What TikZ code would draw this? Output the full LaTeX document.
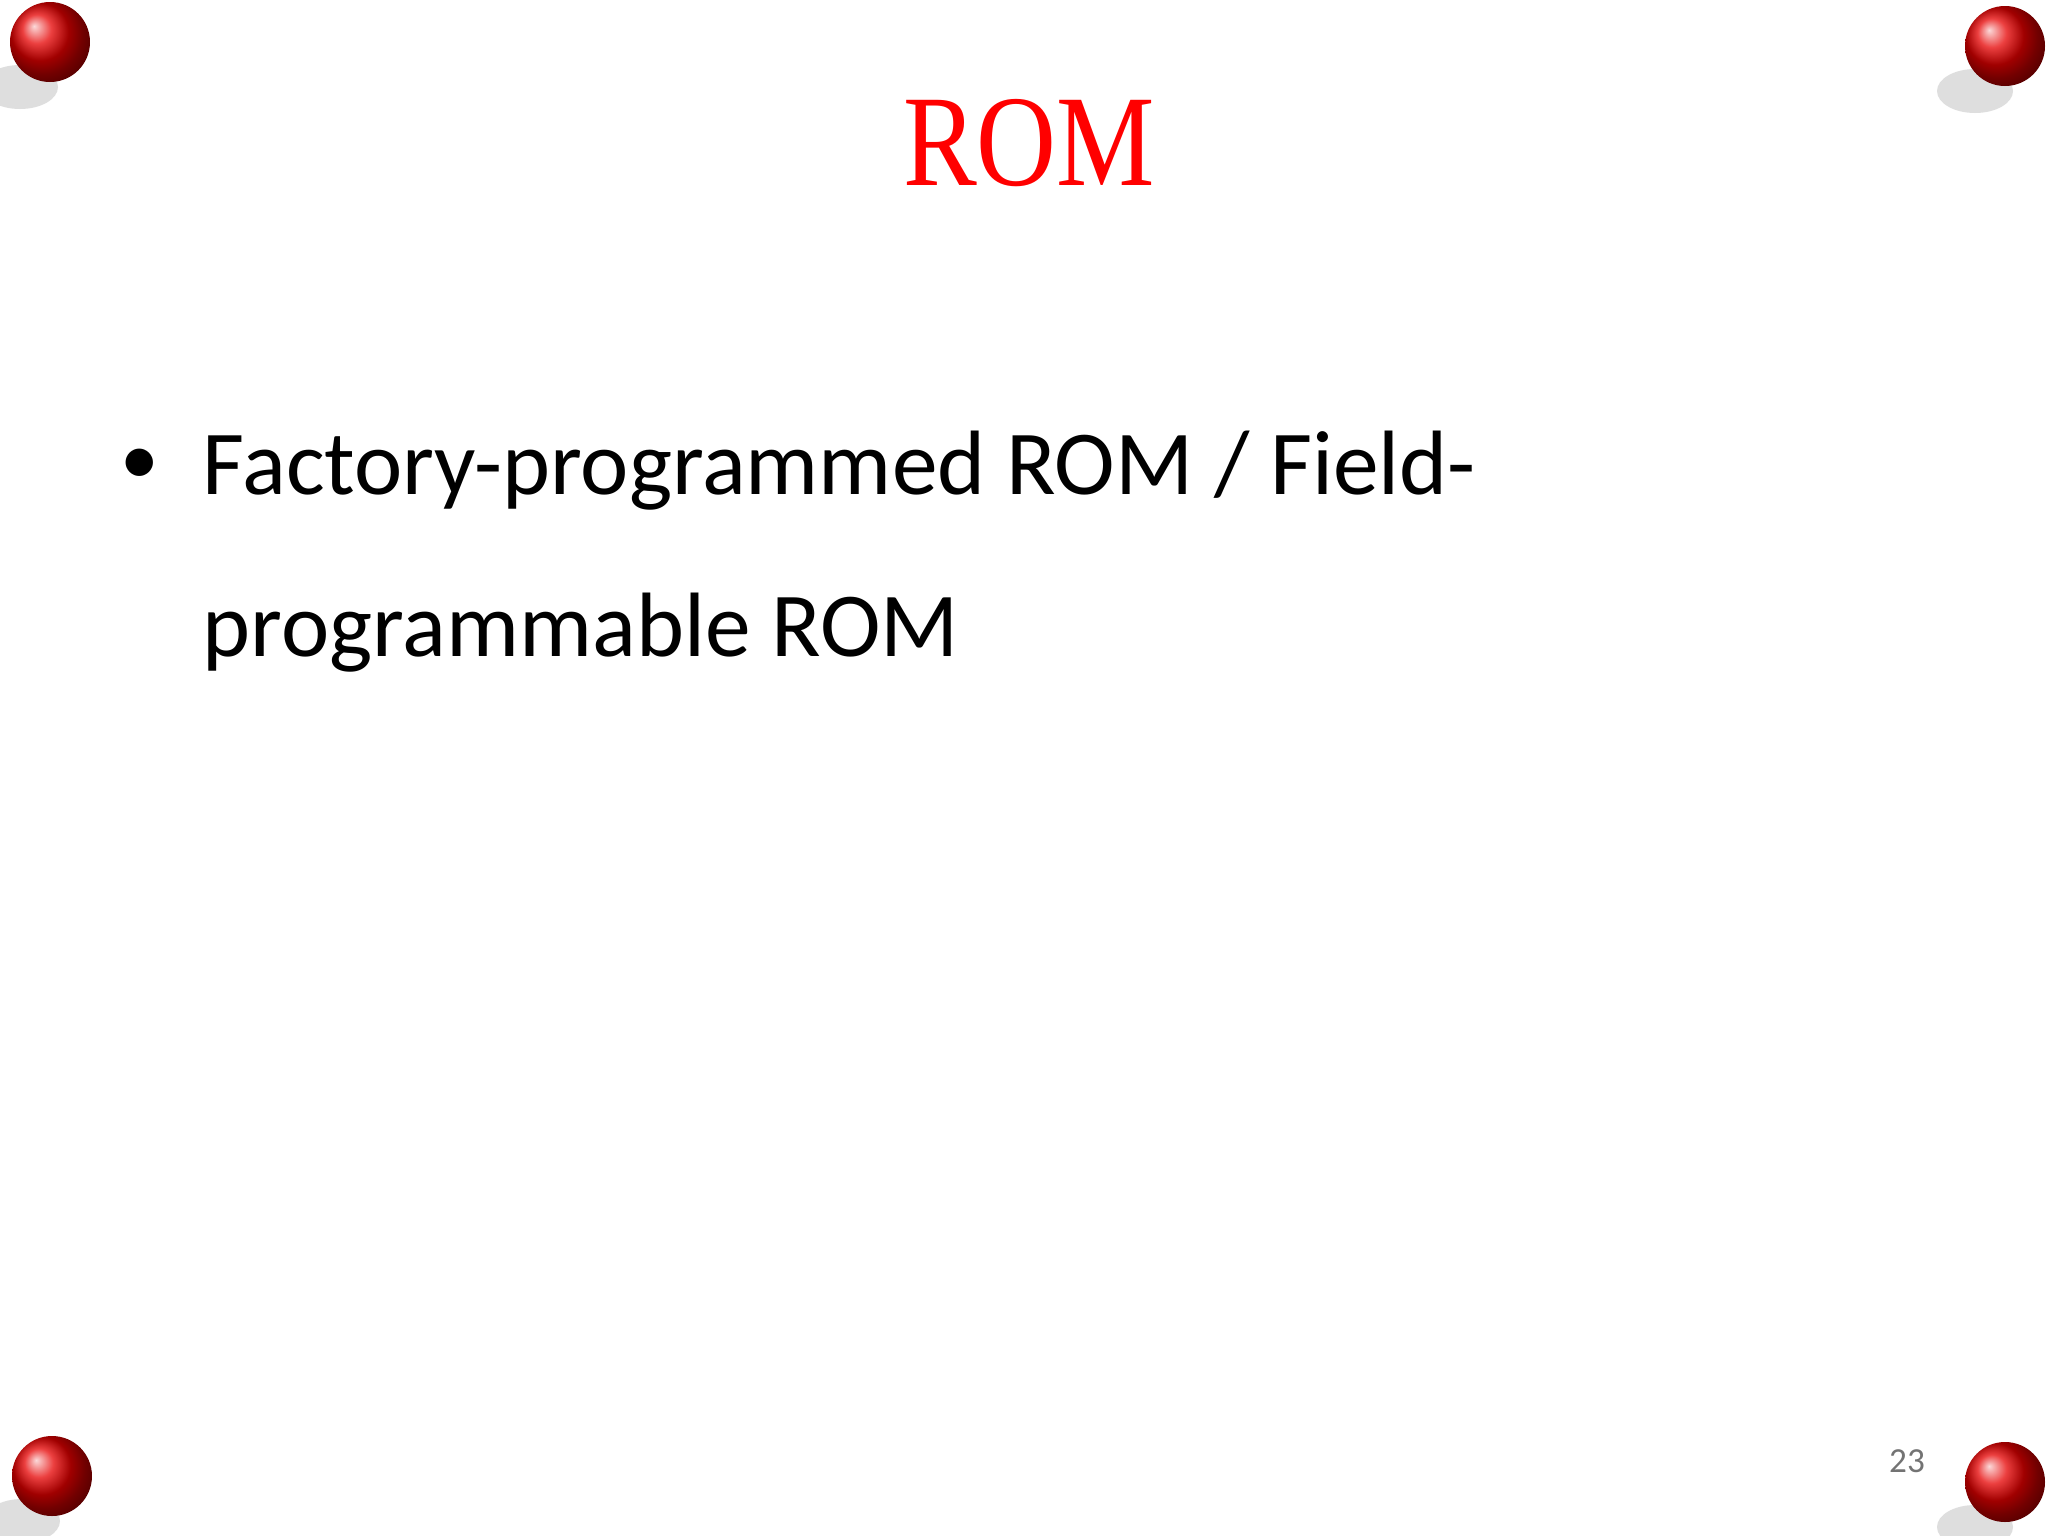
\documentclass[tikz,border=0pt]{standalone}
\usepackage{fontspec}
\setmainfont{Carlito}
\newfontfamily\titlefont{Liberation Serif}
\begin{document}
\begin{tikzpicture}[x=0.01cm,y=-0.01cm,
  pinshadow/.style={fill=black!25,opacity=0.5},
  pinball/.style={ball color=red!90!black,draw=none},
  bodytext/.style={anchor=base west,inner sep=0,font=\fontsize{26}{32}\selectfont}]
\useasboundingbox (0,0) rectangle (2048,1536);
\fill[white] (0,0) rectangle (2048,1536);
\node[anchor=base,text=red,xscale=0.85,font=\titlefont\fontsize{37}{44}\selectfont] (title) at (1029,185) {ROM};
\node[anchor=base,inner sep=0,font=\fontsize{22}{26}\selectfont] (b) at (140,484) {\textbullet};
\node[bodytext] (l1) at (202,494) {Factory-programmed ROM / Field-};
\node[bodytext] (l2) at (202,656) {programmable ROM};
\node[anchor=base,text=black!55,font=\fontsize{10}{12}\selectfont] (pg) at (1907,1472) {23};
\foreach \x/\y in {50/42, 2005/46, 52/1476, 2005/1482}{
  \fill[pinshadow] (\x-30,\y+45) ellipse (38 and 22);
  \shade[pinball] (\x,\y) circle (40);
}
\end{tikzpicture}
\end{document}
